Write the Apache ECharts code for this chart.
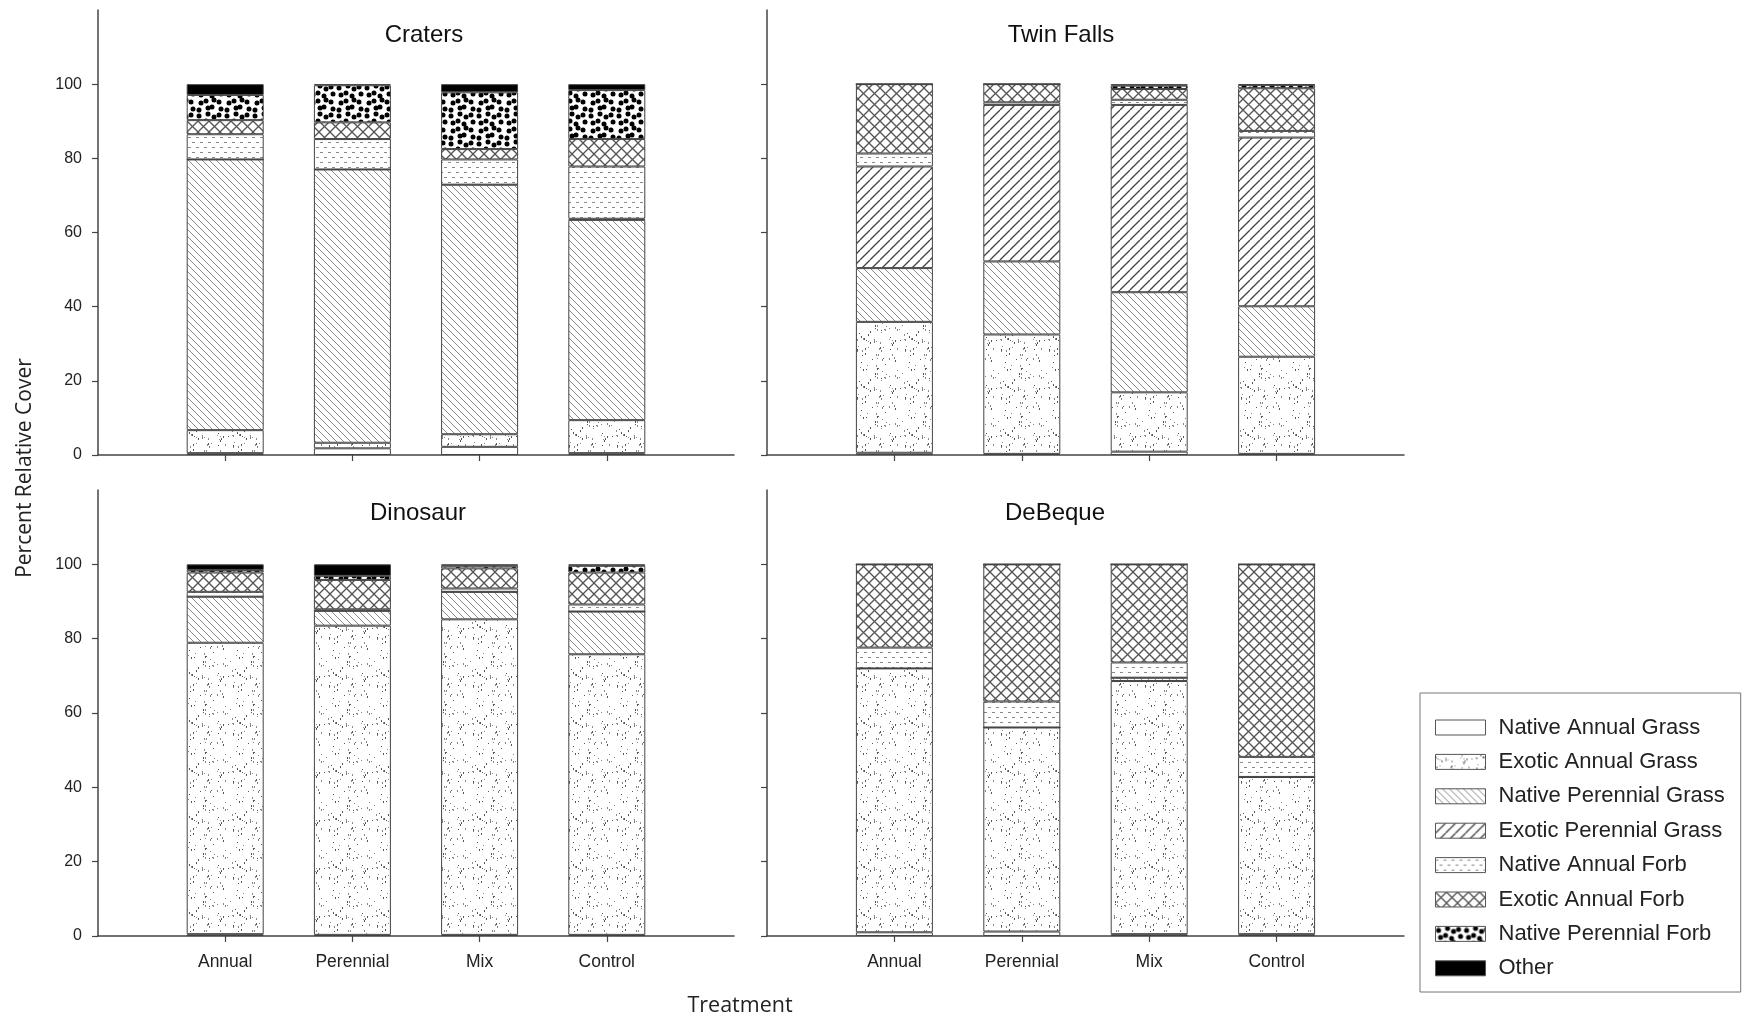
<!DOCTYPE html>
<html><head><meta charset="utf-8">
<script src="https://cdn.jsdelivr.net/npm/echarts@6/dist/echarts.min.js"></script>
<style>html,body{margin:0;padding:0;background:#fff}#c{width:1749px;height:1021px}</style>
</head><body><div id="c"></div>
<script>
// ---- data ----
const treatments = ['Annual', 'Perennial', 'Mix', 'Control'];
const groups = ['Native Annual Grass', 'Exotic Annual Grass', 'Native Perennial Grass', 'Exotic Perennial Grass',
  'Native Annual Forb', 'Exotic Annual Forb', 'Native Perennial Forb', 'Other'];
const sites = ['Craters', 'Twin Falls', 'Dinosaur', 'DeBeque'];
// rows follow groups order; columns follow treatments order
const craters = [
  [0.5, 1.8, 2.2, 0.5],
  [6.2, 1.5, 3.4, 8.9],
  [73.0, 73.7, 67.3, 54.0],
  [0, 0, 0, 0.3],
  [6.8, 8.2, 6.8, 14.1],
  [3.8, 4.5, 2.8, 7.4],
  [6.8, 10.0, 15.3, 13.2],
  [2.9, 0.3, 2.2, 1.6]
];
const twinFalls = [
  [0.6, 0.3, 0.9, 0.3],
  [35.3, 32.2, 16.0, 26.2],
  [14.5, 19.7, 27.0, 13.6],
  [27.4, 42.2, 50.5, 45.5],
  [3.5, 0.7, 1.4, 1.8],
  [18.7, 4.9, 2.9, 11.5],
  [0, 0, 0.9, 0.9],
  [0, 0, 0.4, 0.2]
];
const dinosaur = [
  [0.5, 0.3, 0.3, 0.3],
  [78.4, 83.2, 84.9, 75.5],
  [12.4, 4.0, 7.4, 11.5],
  [0, 0, 0, 0],
  [1.3, 0.4, 0.9, 1.9],
  [5.2, 7.9, 5.4, 8.6],
  [0.7, 1.1, 0.7, 1.8],
  [1.5, 3.1, 0.4, 0.4]
];
const deBeque = [
  [1.0, 1.2, 0.5, 0.5],
  [71.0, 54.9, 68.1, 42.3],
  [0, 0, 0.9, 0],
  [0, 0, 0, 0],
  [5.6, 7.0, 4.1, 5.4],
  [22.4, 36.9, 26.4, 51.8],
  [0, 0, 0, 0],
  [0, 0, 0, 0]
];
const siteData = [craters, twinFalls, dinosaur, deBeque];
// empty slots at both ends give the axis its margin on each side
const xCategories = [''].concat(treatments, ['']);
const yTicks = [0, 20, 40, 60, 80, 100];

// ---- fill textures ----
function tile(w, h, draw) {
  const c = document.createElement('canvas');
  c.width = w; c.height = h;
  const g = c.getContext('2d');
  g.fillStyle = '#fff'; g.fillRect(0, 0, w, h);
  draw(g, w, h);
  return { image: c, repeat: 'repeat' };
}
function diag(g, s, dir, color, lw) {
  g.strokeStyle = color; g.lineWidth = lw;
  for (let k = -1; k <= 1; k++) {
    g.beginPath();
    if (dir > 0) { g.moveTo(k * s, s); g.lineTo(k * s + s, 0); }
    else { g.moveTo(k * s, 0); g.lineTo(k * s + s, s); }
    g.stroke();
  }
}
const stipple = tile(48, 48, (g, w, h) => {
  let s = 4321;
  const r = () => { s = (s * 16807) % 2147483647; return s / 2147483647; };
  for (let i = 0; i < 75; i++) {
    const x = Math.floor(r() * w), y = Math.floor(r() * h);
    g.fillStyle = r() > 0.5 ? '#555' : '#888';
    g.fillRect(x, y, 1, r() > 0.5 ? 2 : 1);
  }
});
const nativePerGrass = tile(7, 7, (g) => diag(g, 7, -1, '#8a8a8a', 1));
const exoticPerGrass = tile(10, 10, (g) => diag(g, 10, 1, '#444', 1.3));
const nativeAnnForb = tile(8, 10, (g) => {
  g.strokeStyle = '#888'; g.lineWidth = 1.2;
  g.beginPath(); g.moveTo(0, 2.5); g.lineTo(4, 2.5); g.moveTo(4, 7.5); g.lineTo(8, 7.5); g.stroke();
  g.strokeStyle = '#fff'; g.lineWidth = 1.4;
  g.beginPath(); g.moveTo(3, 2.5); g.lineTo(4, 2.5); g.moveTo(7, 7.5); g.lineTo(8, 7.5); g.stroke();
});
const exoticAnnForb = tile(11, 11, (g) => { diag(g, 11, 1, '#555', 1.3); diag(g, 11, -1, '#555', 1.3); });
const nativePerForb = tile(28, 28, (g, w, h) => {
  const jit = [[1,2],[3,0],[2,3],[0,1],[3,2],[1,0],[0,3],[2,1],[3,3],[1,1],[2,0],[0,2],[1,3],[3,1],[0,0],[2,2]];
  g.fillStyle = '#000';
  let n = 0;
  for (let gy = 0; gy < 4; gy++) for (let gx = 0; gx < 4; gx++) {
    const [jx, jy] = jit[n++];
    const cx = gx * 7 + 2 + jx, cy = gy * 7 + 2 + jy;
    for (const ox of [-w, 0, w]) for (const oy of [-h, 0, h]) {
      g.beginPath(); g.arc(cx + ox, cy + oy, 2.5, 0, Math.PI * 2); g.fill();
    }
  }
});
const fills = ['#ffffff', stipple, nativePerGrass, exoticPerGrass, nativeAnnForb, exoticAnnForb, nativePerForb, '#000000'];

// ---- layout ----
const grids = [
  { left: 98, top: 10, width: 636, height: 445 },
  { left: 767, top: 10, width: 637, height: 445 },
  { left: 98, top: 490, width: 636, height: 446 },
  { left: 767, top: 490, width: 637, height: 446 }
];
const titlePos = [[424, 35], [1061, 35], [418, 513], [1055, 513]];
const axisColor = '#444';
const labelFont = 'Liberation Sans';
const isTreatment = (idx, val) => val !== '';

const xAxes = grids.map((_, i) => ({
  type: 'category', gridIndex: i, data: xCategories, boundaryGap: false,
  axisLine: { show: true, lineStyle: { color: axisColor, width: 1.5 } },
  axisTick: { show: true, interval: isTreatment, length: 6, lineStyle: { color: axisColor, width: 1.2 } },
  axisLabel: { show: i >= 2, interval: isTreatment,
    fontSize: 17.5, margin: 17, color: '#222', fontFamily: labelFont },
  splitLine: { show: false }
}));
const yAxes = grids.map((_, i) => ({
  type: 'value', gridIndex: i, min: 0, max: 120, interval: 20,
  axisLine: { show: true, lineStyle: { color: axisColor, width: 1.5 } },
  axisTick: { show: true, customValues: yTicks, length: 6, lineStyle: { color: axisColor, width: 1.2 } },
  axisLabel: { show: i % 2 === 0, customValues: yTicks, formatter: v => (v > 100 ? '' : String(v)),
    fontSize: 16, margin: 16, color: '#222', fontFamily: labelFont },
  splitLine: { show: false }
}));

const series = [];
siteData.forEach((rows, si) => {
  rows.forEach((vals, gi) => {
    series.push({
      type: 'bar', name: groups[gi], xAxisIndex: si, yAxisIndex: si, stack: 'site' + si,
      barWidth: 77,
      data: ['-'].concat(vals, ['-']),
      itemStyle: { color: fills[gi], borderColor: '#444', borderWidth: 1 },
      emphasis: { disabled: true }
    });
  });
});

const graphics = sites.map((s, i) => ({
  type: 'text', x: titlePos[i][0], y: titlePos[i][1],
  style: { text: s, font: '24px "Liberation Sans"', fill: '#111', textAlign: 'center', textVerticalAlign: 'middle' }
}));
graphics.push({
  type: 'text', x: 25, y: 468, rotation: Math.PI / 2,
  style: { text: 'Percent Relative Cover', font: '21px "Open Sans"', fill: '#222', textAlign: 'center', textVerticalAlign: 'middle' }
});
graphics.push({
  type: 'text', x: 740, y: 1006,
  style: { text: 'Treatment', font: '21.5px "Open Sans"', fill: '#222', textAlign: 'center', textVerticalAlign: 'middle' }
});

const chart = echarts.init(document.getElementById('c'), null, { renderer: 'canvas' });
chart.setOption({
  backgroundColor: '#fff',
  animation: false,
  grid: grids,
  xAxis: xAxes,
  yAxis: yAxes,
  series: series,
  graphic: graphics,
  legend: {
    data: groups, orient: 'vertical', left: 1420, top: 693,
    icon: 'rect', itemWidth: 50, itemHeight: 15, itemGap: 12.4,
    padding: [23.5, 16, 12.7, 15],
    borderColor: '#777', borderWidth: 1, backgroundColor: '#fff',
    itemStyle: { borderColor: '#555', borderWidth: 1 },
    textStyle: { fontSize: 22, fontFamily: labelFont, color: '#222', padding: [0, 0, 0, 8], lineHeight: 15 }
  }
});
</script></body></html>
